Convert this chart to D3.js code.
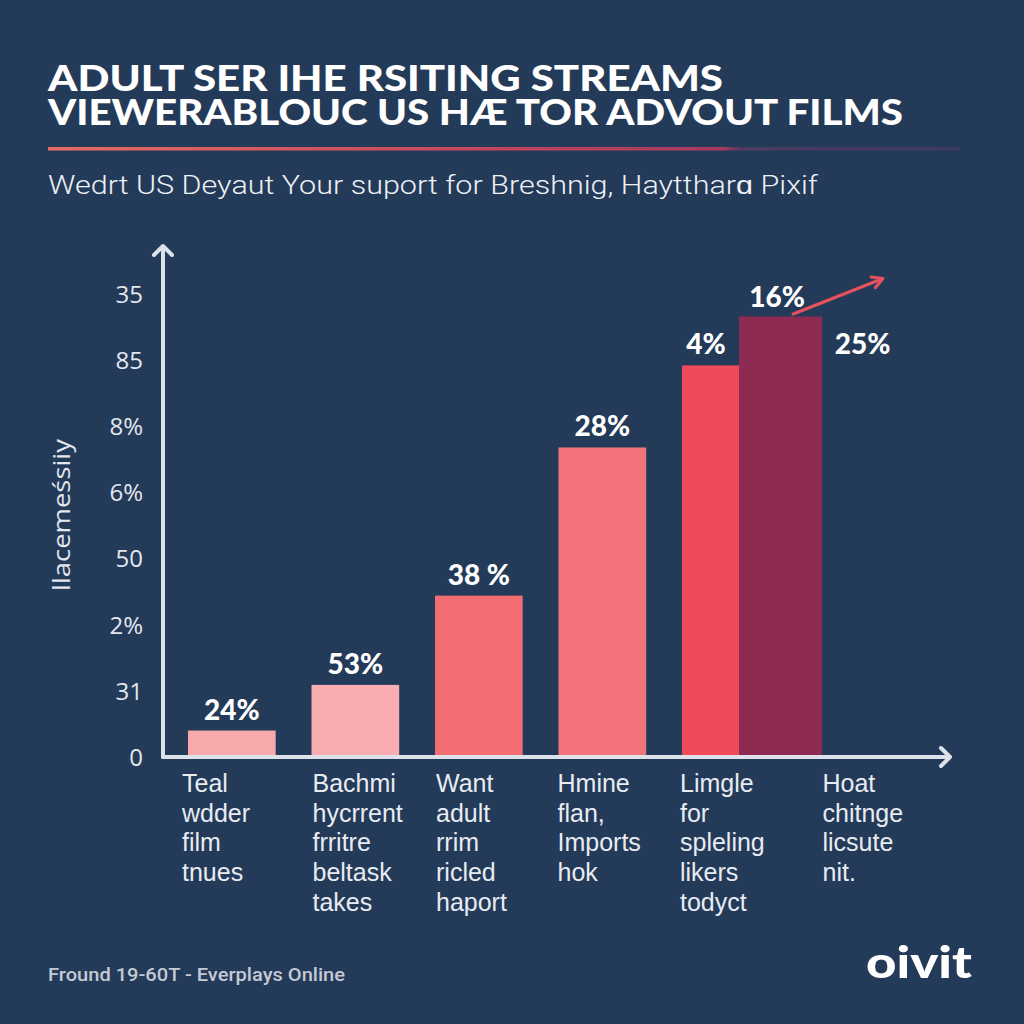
<!DOCTYPE html>
<html>
<head>
<meta charset="utf-8">
<script src="https://cdn.jsdelivr.net/npm/d3@7"></script>
<style>
  html, body { margin: 0; padding: 0; background: #243a59; }
  svg { display: block; }
</style>
</head>
<body>
<svg id="chart" width="1024" height="1024"></svg>
<script>
// ---------------- DATA ----------------
const titleLines = ["ADULT SER IHE RSITING STREAMS", "VIEWERABLOUC US HÆ TOR ADVOUT FILMS"];
const subtitle = "Wedrt US Deyaut Your suport for Breshnig, Haytthar\u0251 Pixif";
const yAxisLabel = "llacemeśsiiy";
const categories = ["c1", "c2", "c3", "c4", "c5", "c6"];
const categoryLabels = [
  ["Teal", "wdder", "film", "tnues"],
  ["Bachmi", "hycrrent", "frritre", "beltask", "takes"],
  ["Want", "adult", "rrim", "ricled", "haport"],
  ["Hmine", "flan,", "Imports", "hok"],
  ["Limgle", "for", "spleling", "likers", "todyct"],
  ["Hoat", "chitnge", "licsute", "nit."]
];
const values = [2.0, 5.45, 12.2, 23.4, 29.6, null];
const valueLabels = ["24%", "53%", "38 %", "28%", "4%", "25%"];
const highlightCategory = "c5";
const highlightValue = 33.3;
const highlightLabel = "16%";
const yTickValues = [0, 5, 10, 15, 20, 25, 30, 35];
const yTickLabels = ["0", "31", "2%", "50", "6%", "8%", "85", "35"];
const footer = "Fround 19-60T - Everplays Online";
const logo = "oivit";

// ---------------- STYLE ----------------
const barColors = ["#f8a9ac", "#f9adb0", "#f26e73", "#f2737a", "#ef4a59"];
const highlightColor = "#8e2b53";
const axisColor = "#dde2ea";
const textColor = "#ffffff";

const svg = d3.select("#chart");
svg.append("rect").attr("width", 1024).attr("height", 1024).attr("fill", "#243a59");

const defs = svg.append("defs");
const grad = defs.append("linearGradient").attr("id", "rule").attr("x1", "0%").attr("x2", "100%");
grad.append("stop").attr("offset", "0%").attr("stop-color", "#e46e62");
grad.append("stop").attr("offset", "48%").attr("stop-color", "#c4465e");
grad.append("stop").attr("offset", "74%").attr("stop-color", "#a53a60");
grad.append("stop").attr("offset", "76%").attr("stop-color", "#4e3b62");
grad.append("stop").attr("offset", "100%").attr("stop-color", "#3d3b60");

// Title
const titleWidths = [675, 855];
titleLines.forEach((t, i) => {
  svg.append("text")
    .attr("x", 48).attr("y", 91 + i * 34)
    .attr("font-family", "Lato, 'DejaVu Sans', sans-serif")
    .attr("font-weight", 900)
    .attr("font-size", 36)
    .attr("fill", textColor)
    .attr("textLength", titleWidths[i])
    .attr("lengthAdjust", "spacingAndGlyphs")
    .text(t);
});

svg.append("rect").attr("x", 48).attr("y", 147).attr("width", 912).attr("height", 3.5)
  .attr("fill", "url(#rule)");

svg.append("text")
  .attr("x", 48).attr("y", 194)
  .attr("font-family", "Roboto, 'Liberation Sans', sans-serif")
  .attr("font-weight", 300)
  .attr("font-size", 25)
  .attr("fill", "#eef1f5")
  .attr("textLength", 770)
  .attr("lengthAdjust", "spacingAndGlyphs")
  .text(subtitle);

// ---------------- SCALES ----------------
const y = d3.scaleLinear().domain([0, 35]).range([757, 294]);
const x = d3.scaleBand().domain(categories).range([188, 929]).paddingInner(0).paddingOuter(0);
const barW = x.bandwidth() * 0.71;

// Y axis ticks (labels only)
const yAxis = d3.axisLeft(y)
  .tickValues(yTickValues)
  .tickFormat((d, i) => yTickLabels[i])
  .tickSize(0)
  .tickPadding(0);
const gy = svg.append("g").attr("transform", "translate(143,0)").call(yAxis);
gy.select(".domain").remove();
gy.selectAll("text")
  .attr("font-family", "'Open Sans', sans-serif")
  .attr("font-size", 24)
  .attr("fill", "#e3e7ee")
  .attr("dy", "0.35em");

// Y axis title
svg.append("text")
  .attr("transform", "translate(70,515) rotate(-90)")
  .attr("text-anchor", "middle")
  .attr("font-family", "'Open Sans', sans-serif")
  .attr("font-size", 24)
  .attr("fill", "#e3e7ee")
  .attr("textLength", 152)
  .attr("lengthAdjust", "spacingAndGlyphs")
  .text(yAxisLabel);

// ---------------- BARS ----------------
const barData = categories.map((c, i) => ({ c, v: values[i], label: valueLabels[i], color: barColors[i] }));
const hlBarW = 83;

svg.append("g").selectAll("rect")
  .data(barData.filter(d => d.v != null))
  .join("rect")
  .attr("x", d => x(d.c))
  .attr("y", d => y(d.v))
  .attr("width", d => d.c === highlightCategory ? 57 : barW)
  .attr("height", d => y(0) - y(d.v))
  .attr("fill", d => d.color);

const hlX = x(highlightCategory) + 57;
svg.append("rect")
  .attr("x", hlX)
  .attr("y", y(highlightValue))
  .attr("width", hlBarW)
  .attr("height", y(0) - y(highlightValue))
  .attr("fill", highlightColor);

// Value labels
const vlFont = "Lato, 'DejaVu Sans', sans-serif";
svg.append("g").selectAll("text")
  .data(barData.filter(d => d.v != null))
  .join("text")
  .attr("x", d => d.c === highlightCategory ? x(d.c) + 24 : x(d.c) + barW / 2)
  .attr("y", d => y(d.v) - 11)
  .attr("text-anchor", "middle")
  .attr("font-family", vlFont)
  .attr("font-weight", 900)
  .attr("font-size", 28)
  .attr("fill", textColor)
  .text(d => d.label);

// Label without bar (last category)
const lastCat = barData[barData.length - 1];
svg.append("text")
  .attr("x", x(lastCat.c) + 57)
  .attr("y", y(highlightValue) + 38)
  .attr("text-anchor", "middle")
  .attr("font-family", vlFont)
  .attr("font-weight", 900)
  .attr("font-size", 28)
  .attr("fill", textColor)
  .text(lastCat.label);

svg.append("text")
  .attr("x", hlX + 38)
  .attr("y", y(highlightValue) - 9)
  .attr("text-anchor", "middle")
  .attr("font-family", vlFont)
  .attr("font-weight", 900)
  .attr("font-size", 28)
  .attr("fill", textColor)
  .text(highlightLabel);

// Trend arrow from highlight bar
const ax0 = hlX + 53, ay0 = y(highlightValue) - 2;
const ax1 = ax0 + 91, ay1 = ay0 - 36;
svg.append("line")
  .attr("x1", ax0).attr("y1", ay0).attr("x2", ax1).attr("y2", ay1)
  .attr("stroke", "#e6525c").attr("stroke-width", 3);
const ang = Math.atan2(ay1 - ay0, ax1 - ax0);
const hl = 12;
svg.append("path")
  .attr("d", `M${ax1 - hl * Math.cos(ang - 0.5)},${ay1 - hl * Math.sin(ang - 0.5)} L${ax1},${ay1} L${ax1 - hl * Math.cos(ang + 0.5)},${ay1 - hl * Math.sin(ang + 0.5)}`)
  .attr("fill", "none").attr("stroke", "#e6525c").attr("stroke-width", 3)
  .attr("stroke-linecap", "round").attr("stroke-linejoin", "round");

// ---------------- AXES LINES ----------------
const x0 = 163, yb = y(0);
svg.append("path")
  .attr("d", `M${x0},${yb} L${x0},${246} M${x0 - 9},${255} L${x0},${246} L${x0 + 9},${255}`)
  .attr("fill", "none").attr("stroke", axisColor).attr("stroke-width", 4)
  .attr("stroke-linecap", "round").attr("stroke-linejoin", "round");
svg.append("path")
  .attr("d", `M${x0},${yb} L${950},${yb} M${941},${yb - 9} L${950},${yb} L${941},${yb + 9}`)
  .attr("fill", "none").attr("stroke", axisColor).attr("stroke-width", 4)
  .attr("stroke-linecap", "round").attr("stroke-linejoin", "round");

// ---------------- CATEGORY LABELS ----------------
const labelDx = [-6, 1, 1, -1, -2, 17];
categories.forEach((c, i) => {
  const t = svg.append("text")
    .attr("x", x(c) + labelDx[i])
    .attr("y", 792)
    .attr("font-family", "'Liberation Sans', Arial, sans-serif")
    .attr("font-size", 25)
    .attr("fill", "#e8ecf2");
  categoryLabels[i].forEach((line, j) => {
    t.append("tspan").attr("x", x(c) + labelDx[i]).attr("y", 792 + j * 29.7).text(line);
  });
});

// ---------------- FOOTER ----------------
svg.append("text")
  .attr("x", 48).attr("y", 981)
  .attr("font-family", "Roboto, sans-serif")
  .attr("font-weight", 500)
  .attr("font-size", 18)
  .attr("fill", "#c3cad5")
  .attr("textLength", 297)
  .attr("lengthAdjust", "spacingAndGlyphs")
  .text(footer);

svg.append("text")
  .attr("x", 866).attr("y", 978)
  .attr("font-family", "Lato, 'DejaVu Sans', sans-serif")
  .attr("font-weight", 900)
  .attr("font-size", 44)
  .attr("fill", "#ffffff")
  .attr("textLength", 106)
  .attr("lengthAdjust", "spacingAndGlyphs")
  .text(logo);
</script>
</body>
</html>
